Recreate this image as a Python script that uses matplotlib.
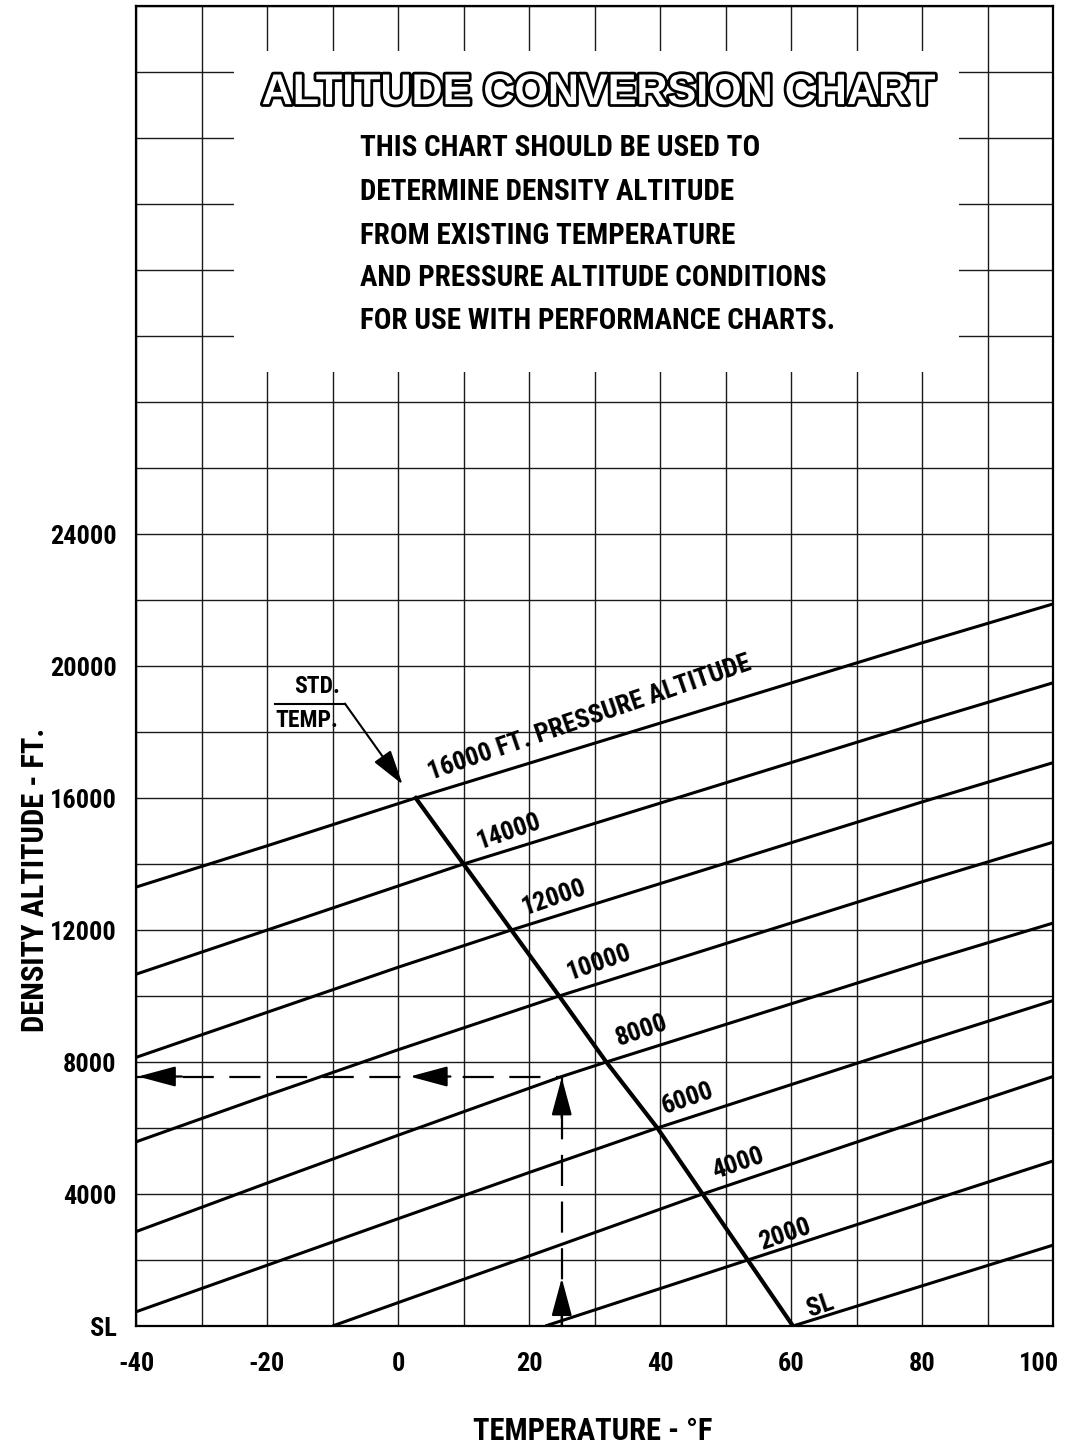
import numpy as np
import matplotlib
matplotlib.use('Agg')
import matplotlib.pyplot as plt
import matplotlib.patheffects as pe
import matplotlib.transforms as mtrans
from matplotlib import font_manager as fm
from matplotlib.patches import Rectangle

# pressure altitude lines: temperature (F) -> density altitude (ft)
sl_t = [60.3, 100]
sl_da = [0, 2450]
pa2000_t = [22.5, 53.4, 100]
pa2000_da = [0, 2000, 5000]
pa4000_t = [-10, 20, 46.5, 80, 100]
pa4000_da = [0, 2120, 4000, 6240, 7560]
pa6000_t = [-40, -20, 0, 20, 39.6, 80, 100]
pa6000_da = [430, 1840, 3250, 4650, 6000, 8600, 9860]
pa8000_t = [-40, -20, 0, 25, 31.8, 80, 100]
pa8000_da = [2860, 4330, 5780, 7560, 8000, 11010, 12210]
pa10000_t = [-40, -20, 0, 24.6, 80, 100]
pa10000_da = [5580, 6990, 8370, 10000, 13460, 14660]
pa12000_t = [-40, 0, 17.3, 80, 100]
pa12000_da = [8140, 10870, 12000, 15880, 17070]
pa14000_t = [-40, 10, 80, 100]
pa14000_da = [10660, 14000, 18300, 19490]
pa16000_t = [-40, -20, 2.7, 80, 100]
pa16000_da = [13300, 14550, 16000, 20700, 21880]

line_labels = ['SL', '2000', '4000', '6000', '8000', '10000', '12000', '14000',
               '16000 FT. PRESSURE ALTITUDE']

# standard temperature line
std_t = [2.7, 10, 17.3, 24.6, 31.8, 39.6, 46.5, 53.4, 60.3]
std_da = [16000, 14000, 12000, 10000, 8000, 6000, 4000, 2000, 0]

# worked example (dashed)
example_t = 25
example_da = 7560

temp_ticks = [-40, -20, 0, 20, 40, 60, 80, 100]
temp_labels = ['-40', '-20', '0', '20', '40', '60', '80', '100']
da_ticks = [0, 4000, 8000, 12000, 16000, 20000, 24000]
da_labels = ['SL', '4000', '8000', '12000', '16000', '20000', '24000']

title = 'ALTITUDE CONVERSION CHART'
note = ['THIS CHART SHOULD BE USED TO',
        'DETERMINE DENSITY ALTITUDE',
        'FROM EXISTING TEMPERATURE',
        'AND PRESSURE ALTITUDE CONDITIONS',
        'FOR USE WITH PERFORMANCE CHARTS.']

# pick a narrow bold face if one is installed
avail = {f.name for f in fm.fontManager.ttflist}
narrow = next((n for n in ['Liberation Sans Narrow', 'Roboto Condensed', 'Open Sans Condensed']
               if n in avail), 'Liberation Sans')
txt = dict(family=narrow, weight='bold', color='black')

fig = plt.figure(figsize=(10.7, 14.48), dpi=100)
ax = fig.add_axes([136 / 1070, 122 / 1448, 917 / 1070, 1320 / 1448])
ax.set_xlim(-40, 100)
ax.set_ylim(0, 40000)

# grid every 10 F and 2000 ft
ax.set_xticks(np.arange(-40, 101, 10))
ax.set_xticklabels([temp_labels[temp_ticks.index(t)] if t in temp_ticks else '' for t in range(-40, 101, 10)])
ax.set_yticks(np.arange(0, 40001, 2000))
ax.set_yticklabels([da_labels[da_ticks.index(d)] if d in da_ticks else '' for d in range(0, 40001, 2000)])
ax.tick_params(length=0)
ax.tick_params(axis='x', pad=19)
ax.tick_params(axis='y', pad=14)
for lab in ax.get_xticklabels() + ax.get_yticklabels():
    lab.set_fontfamily(narrow)
    lab.set_fontweight('bold')
    lab.set_fontsize(19)
# keep the last temperature label inside the page
last = ax.get_xticklabels()[-1]
last.set_transform(last.get_transform() + mtrans.ScaledTranslation(-10 / 72, 0, fig.dpi_scale_trans))
ax.grid(True, color='#1a1a1a', lw=1.0)
ax.set_axisbelow(True)
for s in ax.spines.values():
    s.set_linewidth(1.6)

# blank panel for the title block
ax.add_patch(Rectangle((-25, 28900), 110.6, 9740, facecolor='white', edgecolor='none', zorder=1))

ax.text(30.5, 37360, title, ha='center', va='center', fontsize=31, family='Liberation Sans',
        weight='bold', color='white', zorder=4,
        path_effects=[pe.withStroke(linewidth=4, foreground='black')])
note_y = [35700, 34360, 33030, 31760, 30450]
for s, y in zip(note, note_y):
    ax.text(-5.8, y, s, ha='left', va='center', fontsize=21, zorder=4, **txt)

# pressure altitude lines
pa_lines = [(sl_t, sl_da), (pa2000_t, pa2000_da), (pa4000_t, pa4000_da), (pa6000_t, pa6000_da),
            (pa8000_t, pa8000_da), (pa10000_t, pa10000_da), (pa12000_t, pa12000_da),
            (pa14000_t, pa14000_da), (pa16000_t, pa16000_da)]
for t, da in pa_lines:
    ax.plot(t, da, color='black', lw=2.2, zorder=3, solid_capstyle='butt')
ax.plot(std_t, std_da, color='black', lw=3.0, zorder=3)

label_pos = [(64.5, 620), (59.1, 2780), (51.95, 4920), (44.3, 6890), (37.2, 8940),
             (30.7, 11010), (23.9, 12980), (17.0, 14970), (29.3, 18420)]
for (x, y), s in zip(label_pos, line_labels):
    ax.text(x, y, s, rotation=19, rotation_mode='anchor', ha='center', va='center',
            fontsize=19, zorder=4, **txt)

# STD. TEMP. pointer
ax.plot([-18.8, -8.1], [18860, 18860], color='black', lw=1.5, zorder=3)
ax.annotate('', xy=(0.7, 16410), xytext=(-8.1, 18860),
            arrowprops=dict(arrowstyle='-|>,head_length=1.2,head_width=0.35', mutation_scale=18,
                            color='black', lw=1.5, shrinkA=0, shrinkB=0), zorder=3)
ax.text(-12.3, 19370, 'STD.', ha='center', va='center', fontsize=17, **txt)
ax.text(-13.9, 18340, 'TEMP.', ha='center', va='center', fontsize=17, **txt)

# dashed example
dash = dict(color='black', lw=1.6, ls=(0, (14, 7)), zorder=3)
ax.plot([example_t, example_t], [0, example_da], **dash)
ax.plot([-40, example_t], [example_da, example_da], **dash)
head = dict(arrowstyle='-|>,head_length=1.3,head_width=0.35', mutation_scale=18,
            color='black', lw=1.6, shrinkA=0, shrinkB=0)
ax.annotate('', xy=(example_t, 1450), xytext=(example_t, 0), arrowprops=head)
ax.annotate('', xy=(example_t, example_da - 30), xytext=(example_t, 6300), arrowprops=head)
ax.annotate('', xy=(1.8, example_da), xytext=(8, example_da), arrowprops=head)
ax.annotate('', xy=(-39.7, example_da), xytext=(-33, example_da), arrowprops=head)

fig.text(35 / 1070, 1 - 880 / 1448, 'DENSITY ALTITUDE - FT.', rotation=90, ha='center', va='center',
         fontsize=22, **txt)
fig.text(593 / 1070, 1 - 1431 / 1448, 'TEMPERATURE - °F', ha='center', va='center',
         fontsize=22, **txt)

plt.savefig('out.png', dpi=100, facecolor='white')
